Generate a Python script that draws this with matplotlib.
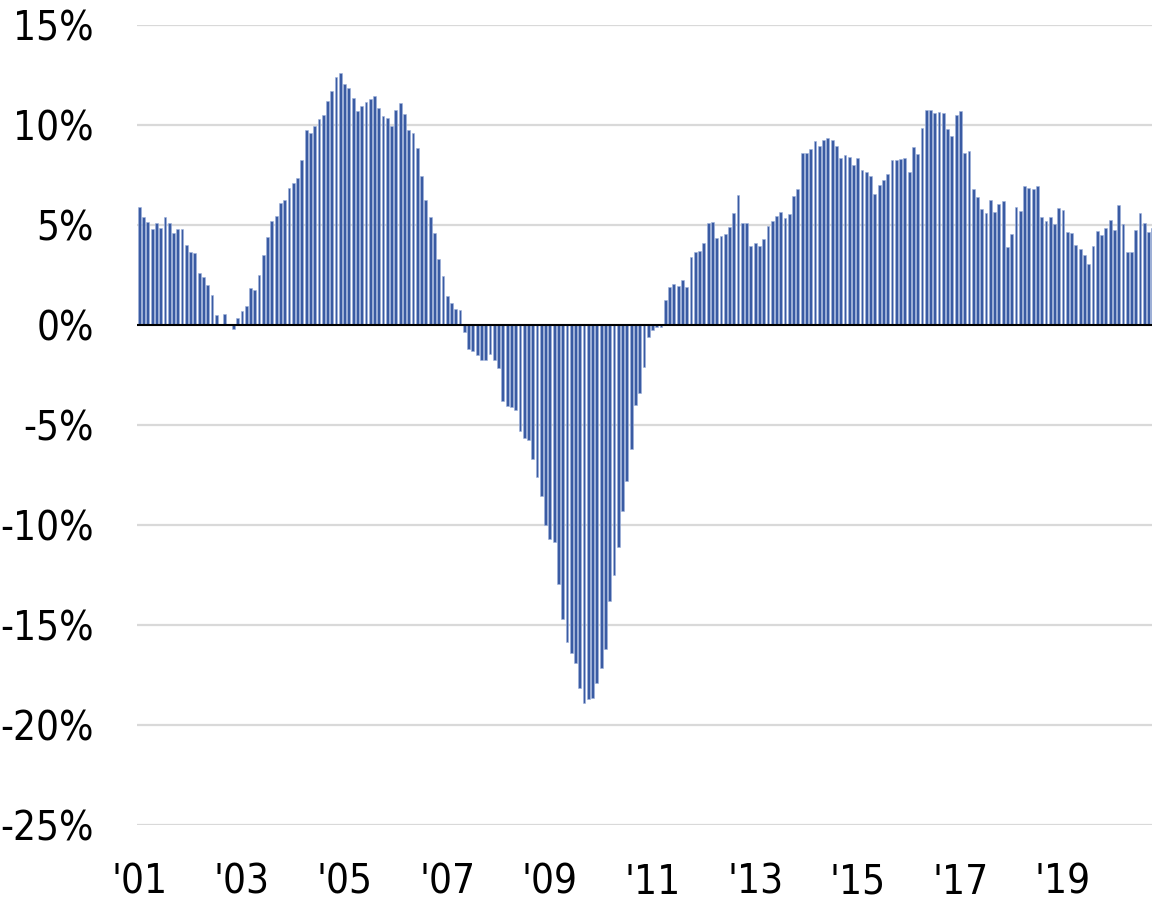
import matplotlib
matplotlib.use('Agg')
import matplotlib.pyplot as plt
import numpy as np
from matplotlib import font_manager
from matplotlib.font_manager import FontProperties

# Monthly year-over-year change, Jan 2001 .. Oct 2020 (%)
values = [
    # 2001
    5.9, 5.38, 5.13, 4.78, 5.08, 4.83, 5.38, 5.08, 4.58, 4.78, 4.8, 3.98,
    # 2002
    3.65, 3.62, 2.58, 2.38, 1.98, 1.5, 0.48, 0.05, 0.55, 0.05, -0.22, 0.33,
    # 2003
    0.72, 0.95, 1.85, 1.73, 2.48, 3.5, 4.4, 5.2, 5.45, 6.08, 6.25, 6.87,
    # 2004
    7.08, 7.37, 8.23, 9.73, 9.58, 9.95, 10.28, 10.5, 11.22, 11.68, 12.38, 12.62,
    # 2005
    12.03, 11.83, 11.35, 10.72, 10.97, 11.17, 11.3, 11.45, 10.85, 10.43, 10.33, 9.95,
    # 2006
    10.73, 11.1, 10.57, 9.75, 9.58, 8.85, 7.47, 6.23, 5.42, 4.6, 3.28, 2.47,
    # 2007
    1.47, 1.08, 0.8, 0.73, -0.33, -1.2, -1.3, -1.5, -1.75, -1.75, -1.45, -1.75,
    # 2008
    -2.17, -3.78, -4.03, -4.1, -4.27, -5.28, -5.67, -5.73, -6.68, -7.62, -8.57, -10.0,
    # 2009
    -10.68, -10.83, -12.97, -14.72, -15.87, -16.38, -16.92, -18.13, -18.88, -18.68, -18.63, -17.88,
    # 2010
    -17.13, -16.22, -13.82, -12.52, -11.12, -9.32, -7.8, -6.2, -4.0, -3.38, -2.12, -0.62,
    # 2011
    -0.25, -0.1, -0.1, 1.23, 1.88, 2.05, 1.93, 2.25, 1.92, 3.4, 3.63, 3.68,
    # 2012
    4.1, 5.08, 5.13, 4.37, 4.43, 4.55, 4.88, 5.6, 6.5, 5.1, 5.1, 3.97,
    # 2013
    4.08, 3.95, 4.28, 4.97, 5.22, 5.47, 5.67, 5.35, 5.53, 6.45, 6.8, 8.6,
    # 2014
    8.6, 8.8, 9.18, 8.95, 9.27, 9.37, 9.23, 8.93, 8.35, 8.5, 8.42, 7.98,
    # 2015
    8.35, 7.77, 7.65, 7.47, 6.57, 7.0, 7.25, 7.53, 8.23, 8.23, 8.28, 8.37,
    # 2016
    7.63, 8.92, 8.57, 9.83, 10.75, 10.75, 10.62, 10.65, 10.58, 9.8, 9.43, 10.48,
    # 2017
    10.68, 8.62, 8.7, 6.8, 6.4, 5.8, 5.6, 6.27, 5.63, 6.03, 6.22, 3.9,
    # 2018
    4.53, 5.92, 5.68, 6.93, 6.85, 6.8, 6.95, 5.4, 5.18, 5.38, 5.05, 5.83,
    # 2019
    5.73, 4.67, 4.6, 4.0, 3.8, 3.5, 3.03, 3.97, 4.7, 4.5, 4.87, 5.23,
    # 2020
    4.75, 5.98, 5.03, 3.67, 3.67, 4.75, 5.58, 5.1, 4.63, 4.83,
]

year_labels = ["'01", "'03", "'05", "'07", "'09", "'11", "'13", "'15", "'17", "'19"]
y_ticks = [-25, -20, -15, -10, -5, 0, 5, 10, 15]


def pick_label_font():
    """Look for a narrow/condensed regular face; fall back to Roboto."""
    narrow = []
    for f in font_manager.fontManager.ttflist:
        stretch = str(f.stretch).lower()
        is_narrow = ('condensed' in f.name.lower() or 'narrow' in f.name.lower()
                     or 'condensed' in stretch)
        if is_narrow and f.weight in (400, 'normal', 'regular') and f.style == 'normal':
            narrow.append(f)
    if narrow:
        return FontProperties(fname=narrow[0].fname, size=29), True
    return FontProperties(family='Roboto', size=27), False


label_font, is_condensed = pick_label_font()

fig = plt.figure(figsize=(11.52, 9.02), dpi=100)
ax = fig.add_axes([137 / 1152, 77 / 902, 1015 / 1152, 800 / 902])

x = np.arange(len(values))
ax.bar(x, values, width=0.66, color='#3a5ba3', edgecolor='#9fb3dc',
       linewidth=0.4, zorder=2)

# gridlines and zero line
for t in y_ticks:
    if t == 0:
        continue
    ax.axhline(t, color='#d9d9d9', linewidth=1.6, zorder=1)
ax.axhline(0, color='black', linewidth=1.5, zorder=3)

ax.set_ylim(-25, 15)
ax.set_xlim(-0.54, 236.8)
ax.set_yticks(y_ticks)
ax.set_yticklabels([f'{t}%' for t in y_ticks])
ax.set_xticks(np.arange(0, len(values), 24)[:len(year_labels)])
ax.set_xticklabels(year_labels)
for lab in ax.get_yticklabels() + ax.get_xticklabels():
    lab.set_fontproperties(label_font)
ax.tick_params(axis='y', length=0, pad=31, colors='black')
ax.tick_params(axis='x', length=0, pad=27, colors='black')
for s in ax.spines.values():
    s.set_visible(False)

fig.savefig('out.png', dpi=100)
